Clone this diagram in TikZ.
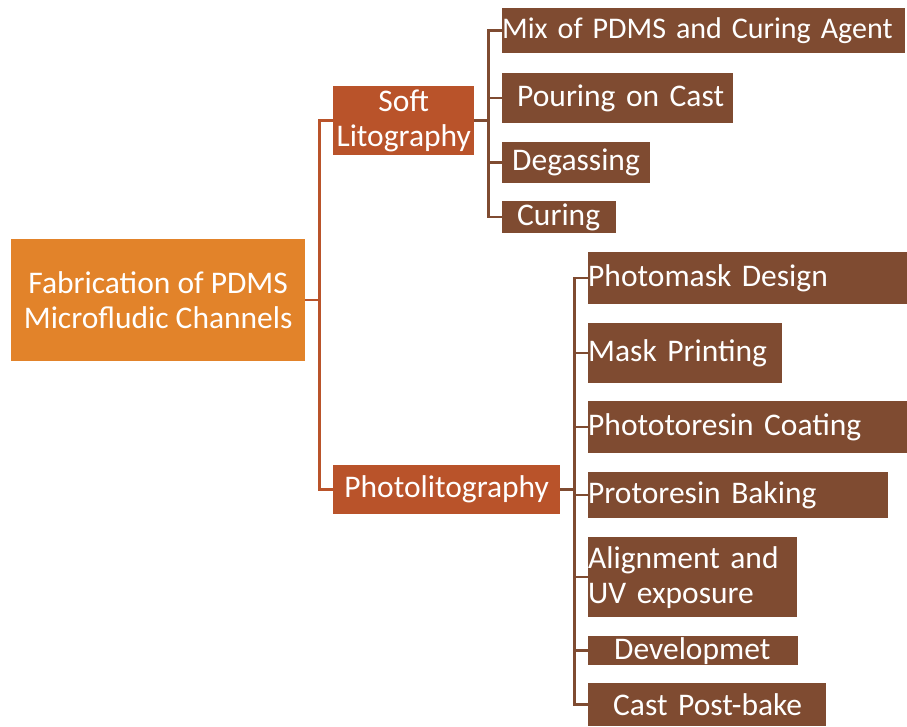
\documentclass[tikz,border=0pt]{standalone}
\usepackage{fontspec}
\setmainfont{Carlito}

\definecolor{rootorange}{HTML}{E2832A}
\definecolor{midrust}{HTML}{B9532A}
\definecolor{leafbrown}{HTML}{7F4B31}

\begin{document}
\begin{tikzpicture}[x=1pt, y=1pt,
  box/.style={anchor=north west, inner sep=0pt, text=white,
    font=\fontsize{31.5}{35}\selectfont},
  rootbox/.style={box, fill=rootorange, align=center},
  midbox/.style={box, fill=midrust, align=center},
  leaf/.style={box, fill=leafbrown, align=left},
  link/.style={line width=2.5pt}]
\useasboundingbox (0,0) rectangle (907,-726);

% root and the two methods
\node[rootbox, minimum width=294pt, minimum height=122pt] (root) at (11,-239)
  {Fabrication of PDMS\\Microfludic Channels};
\node[midbox, minimum width=141pt, minimum height=69pt] (soft) at (333,-86)
  {Soft\\Litography};
\node[midbox, minimum width=227pt, minimum height=49pt] (photo) at (333,-465)
  {Photolitography};

% soft litography steps
\node[leaf, text width=403pt, minimum height=45pt,
  font=\fontsize{30}{35}\selectfont] (mix) at (502,-8)
  {\mbox{Mix of PDMS and Curing Agent}};
\node[leaf, text width=231pt, minimum height=50pt] (pour) at (502,-73)
  {\hspace*{15pt}Pouring on Cast};
\node[leaf, text width=148pt, minimum height=41pt] (degas) at (502,-142)
  {\hspace*{10pt}Degassing};
\node[leaf, text width=114pt, minimum height=32pt] (curing) at (502,-201)
  {\hspace*{15pt}Curing};

% photolitography steps
\node[leaf, text width=319pt, minimum height=52pt] (pmask) at (588,-252)
  {Photomask Design};
\node[leaf, text width=194pt, minimum height=60pt] (mprint) at (588,-323)
  {Mask Printing};
\node[leaf, text width=319pt, minimum height=52pt] (pcoat) at (588,-401)
  {Phototoresin Coating};
\node[leaf, text width=300pt, minimum height=46pt] (pbake) at (588,-472)
  {Protoresin Baking};
\node[leaf, text width=209pt, minimum height=80pt] (align) at (588,-537)
  {Alignment and\\UV exposure};
\node[leaf, text width=210pt, minimum height=29pt] (devel) at (588,-636)
  {\hspace*{26pt}Developmet};
\node[leaf, text width=238pt, minimum height=43pt] (cast) at (588,-683)
  {\hspace*{25pt}Cast Post-bake};

% connectors
\draw[link, midrust] (root.east) -- ++(14,0) coordinate (rbus);
\draw[link, midrust] (soft.west) -| (rbus) |- (photo.west);

\draw[link, leafbrown] (soft.east) -- ++(14,0) coordinate (sbus);
\foreach \n in {mix,pour,degas,curing}
  \draw[link, leafbrown] (sbus) |- (\n.west);

\draw[link, leafbrown] (photo.east) -- ++(14,0) coordinate (pbus);
\foreach \n in {pmask,mprint,pcoat,pbake,align,devel,cast}
  \draw[link, leafbrown] (pbus) |- (\n.west);
\end{tikzpicture}
\end{document}
